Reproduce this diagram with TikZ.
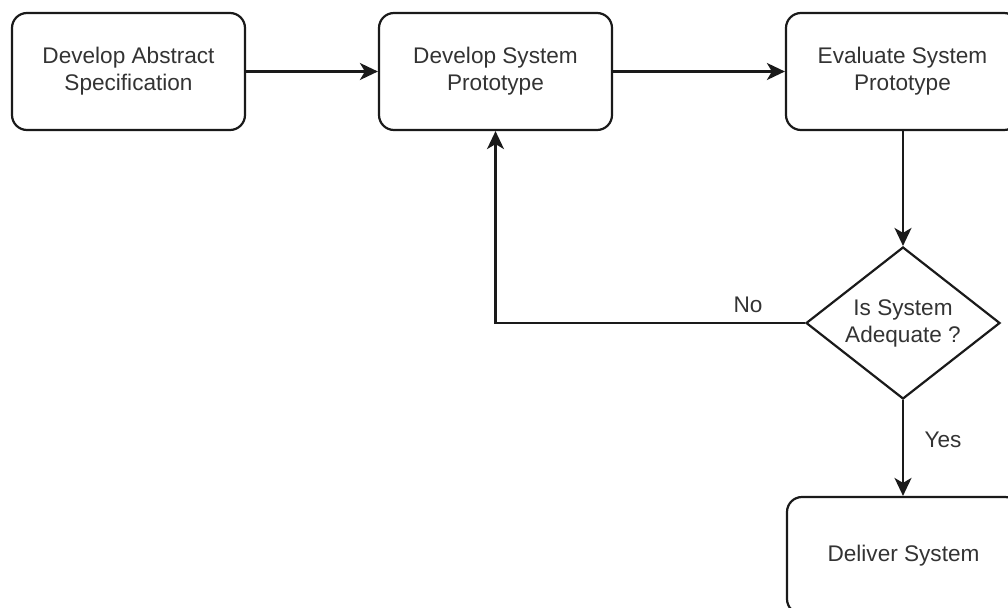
\documentclass[tikz,border=0pt]{standalone}
\usepackage{fontspec}
\setmainfont{Liberation Sans}
\usetikzlibrary{shapes.geometric,arrows.meta}
\definecolor{ink}{HTML}{1A1A1A}
\definecolor{txt}{HTML}{333333}
\begin{document}
\begin{tikzpicture}[x=1pt,y=-1pt,
  font=\fontsize{22.6}{27}\selectfont,
  base/.style={draw=ink,line width=2.2pt,text=txt,align=center,inner sep=0pt},
  procbox/.style={base,rectangle,rounded corners=15pt,minimum width=233pt,minimum height=117pt},
  decision/.style={base,diamond,minimum width=194pt,minimum height=152pt,shape aspect=1.276},
  flow/.style={draw=ink,line width=2.2pt,-{Stealth[length=18pt,width=17pt,inset=5pt]}},
  lbl/.style={text=txt,inner sep=0pt}]
  \clip (0,0) rectangle (1008,607);
  \node[procbox] (spec)  at (128.5,71.5) {Develop Abstract\\Specification};
  \node[procbox] (proto) at (495.5,71.5) {Develop System\\Prototype};
  \node[procbox] (eval)  at (902.5,71.5) {Evaluate System\\Prototype};
  \node[decision] (ok)   at (903,323) {Is System\\Adequate ?};
  \node[procbox] (deliver) at (903.5,555.5) {Deliver System};

  \draw[flow] (spec.east) -- (proto.west);
  \draw[flow] (proto.east) -- (eval.west);
  \draw[flow] (eval.south -| ok.north) -- (ok.north);
  \draw[flow] (ok.south) -- (deliver.north -| ok.south);
  \draw[flow] (ok.west) -| (proto.south);

  \node[lbl] (no)  at (748,305) {No};
  \node[lbl] (yes) at (943,440) {Yes};
\end{tikzpicture}
\end{document}
